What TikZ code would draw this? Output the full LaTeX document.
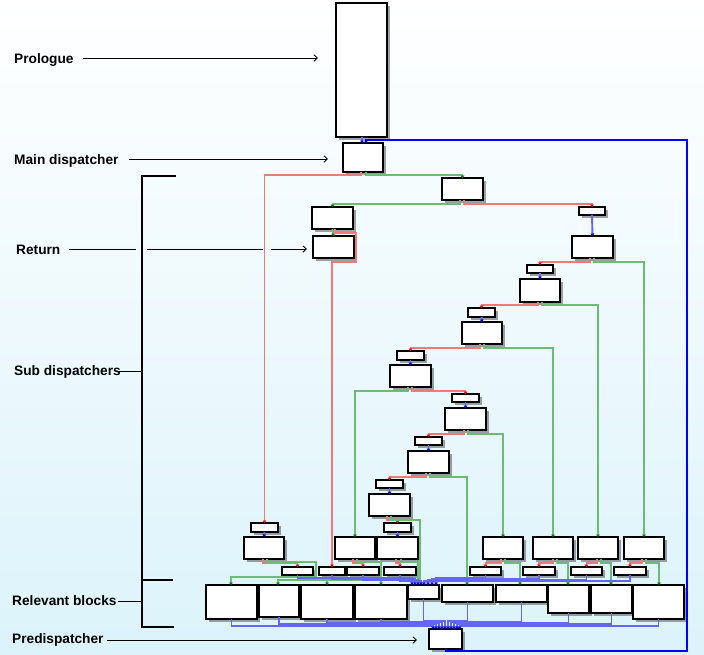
\documentclass[tikz,border=0pt]{standalone}
\usepackage{fontspec}
\setmainfont{Liberation Sans}
\usetikzlibrary{arrows.meta,shadows}
\definecolor{ered}{RGB}{240,122,122}
\definecolor{egreen}{RGB}{108,188,120}
\definecolor{eblue}{RGB}{100,100,255}
\definecolor{bgbot}{RGB}{220,243,251}
\newcommand\mkblk[5]{\node[blk, minimum width={(#4-#2)*1pt}, minimum height={(#5-#3)*1pt}] (#1) at (#2,#3) {};}
\begin{document}
\begin{tikzpicture}[x=1pt,y=-1pt,
  blk/.style={draw=black, line width=1.2pt, fill=white, inner sep=0pt, outer sep=0pt, anchor=north west,
    drop shadow={shadow xshift=3pt, shadow yshift=-3pt, opacity=0.45, fill=black!80}},
  rE/.style={draw=ered, line width=1.9pt, -{Triangle[length=2.5pt,width=3.8pt,color=red]}},
  gE/.style={draw=egreen, line width=1.9pt, -{Triangle[length=2.5pt,width=3.8pt,color=green!50!black]}},
  bE/.style={draw=eblue, line width=1.9pt, -{Triangle[length=2.5pt,width=3.8pt,color=blue]}},
  loopE/.style={draw=blue, line width=2.3pt, -{Triangle[length=2.5pt,width=3.8pt,color=blue]}},
  lab/.style={font=\fontsize{13.7}{15}\selectfont\bfseries, inner sep=0pt, anchor=base west},
  lline/.style={draw=black, line width=0.9pt},
  larr/.style={draw=black, line width=0.9pt, -{Straight Barb[length=3.5pt,width=6.5pt]}},
  brk/.style={draw=black, line width=1.8pt}
]
\fill[top color=white, bottom color=bgbot] (0,0) rectangle (704,654);
\useasboundingbox (0,0) rectangle (704,654);

% ---- blocks ----
\mkblk{pro}{336}{3}{387}{137}
\mkblk{md}{343}{143}{383}{172}
\mkblk{A}{442}{178}{483}{200}
\mkblk{B}{312}{207}{353}{229}
\mkblk{C}{313}{236}{354}{258}
\mkblk{D}{579}{207}{605}{215}
\mkblk{E}{572}{236}{613}{258}
\mkblk{F}{527}{265}{553}{273}
\mkblk{G}{520}{279}{560}{302}
\mkblk{H}{468}{308}{495}{317}
\mkblk{I}{462}{322}{502}{344}
\mkblk{L}{397}{351}{424}{360}
\mkblk{M}{390}{365}{431}{387}
\mkblk{N}{452}{394}{479}{402}
\mkblk{O}{445}{408}{486}{430}
\mkblk{P}{415}{437}{442}{445}
\mkblk{Q}{408}{451}{449}{473}
\mkblk{R}{376}{480}{403}{488}
\mkblk{S}{369}{494}{410}{516}
\mkblk{T}{384}{523}{411}{532}
\mkblk{J}{251}{523}{278}{532}
\mkblk{Jb}{244}{537}{284}{559}
\mkblk{V}{335}{537}{375}{559}
\mkblk{U}{377}{537}{418}{559}
\mkblk{W}{483}{537}{523}{559}
\mkblk{X}{533}{537}{573}{559}
\mkblk{Y}{578}{537}{618}{559}
\mkblk{Z}{624}{537}{664}{559}
\mkblk{k1}{282}{567}{313}{575}
\mkblk{k2}{319}{567}{345}{575}
\mkblk{k3}{347}{567}{379}{575}
\mkblk{k4}{384}{567}{416}{575}
\mkblk{k5}{470}{567}{501}{575}
\mkblk{k6}{523}{567}{555}{575}
\mkblk{k7}{571}{567}{602}{575}
\mkblk{k8}{614}{567}{646}{575}
\mkblk{r1}{206}{585}{257}{619}
\mkblk{r2}{259}{585}{299}{617}
\mkblk{r3}{301}{585}{353}{619}
\mkblk{r4}{355}{585}{407}{619}
\mkblk{r5}{408}{585}{439}{599}
\mkblk{r6}{442}{585}{493}{602}
\mkblk{r7}{496}{585}{547}{602}
\mkblk{r8}{548}{585}{589}{613}
\mkblk{r9}{591}{585}{632}{613}
\mkblk{r10}{633}{585}{684}{619}
\mkblk{pd}{429}{629}{462}{649}

% ---- edges ----
\draw[bE] (pro.south -| 362,0) -- (md.north -| 362,0);
\draw[loopE] (pd.south -| 446,0) -- ++(0,2) -| (687,140) -| (md.north -| 366,0);
\draw[rE] (md.south -| 361,0) -- ++(0,3) -| (J.north);
\draw[gE] (md.south -| 366,0) -- ++(0,3) -| (A.north);
\draw[gE] (A.south -| 460,0) -- ++(0,4) -| (B.north);
\draw[rE] (A.south -| 464,0) -- ++(0,4) -| (D.north);
\draw[gE] (B.south) -- (C.north);
\draw[rE] (B.south -| 335,0) -- ++(0,4) -| (356,262) -| (k2.north);
\draw[bE] (D.south) -- (E.north);
\draw[rE] (E.south -| 590,0) -- ++(0,4) -| (F.north);
\draw[gE] (E.south -| 594,0) -- ++(0,4) -| (Z.north);
\draw[bE] (F.south) -- (G.north);
\draw[rE] (G.south -| 538,0) -- ++(0,3) -| (H.north);
\draw[gE] (G.south -| 542,0) -- ++(0,3) -| (Y.north);
\draw[bE] (H.south) -- (I.north);
\draw[rE] (I.south -| 480,0) -- ++(0,4) -| (L.north);
\draw[gE] (I.south -| 484,0) -- ++(0,4) -| (X.north);
\draw[bE] (L.south) -- (M.north);
\draw[gE] (M.south -| 408,0) -- ++(0,4) -| (V.north);
\draw[rE] (M.south -| 412,0) -- ++(0,4) -| (N.north);
\draw[bE] (N.south) -- (O.north);
\draw[rE] (O.south -| 464,0) -- ++(0,4) -| (P.north);
\draw[gE] (O.south -| 468,0) -- ++(0,4) -| (W.north);
\draw[bE] (P.south) -- (Q.north);
\draw[rE] (Q.south -| 426,0) -- ++(0,4) -| (R.north);
\draw[gE] (Q.south -| 430,0) -- ++(0,4) -| (r6.north -| 467,0);
\draw[bE] (R.south) -- (S.north);
\draw[rE] (S.south -| 387,0) -- ++(0,4) -| (T.north);
\draw[gE] (S.south -| 391,0) -- ++(0,4) -| (420,580) -| (r3.north -| 327,0);
\draw[bE] (T.south) -- (U.north);
\draw[bE] (J.south) -- (Jb.north);
\draw[rE] (Jb.south -| 263,0) -- ++(0,4) -| (k1.north);
\draw[gE] (Jb.south -| 267,0) -- ++(0,3) -| (316,577) -| (r1.north -| 231,0);
\draw[rE] (V.south -| 353,0) -- ++(0,4) -| (k3.north);
\draw[gE] (V.south -| 357,0) -- ++(0,3) -| (r4.north -| 381,0);
\draw[rE] (U.south -| 396,0) -- ++(0,4) -| (k4.north);
\draw[gE] (U.south -| 401,0) -- ++(0,3) -| (418,580) -| (r2.north -| 278,0);
\draw[rE] (W.south -| 501,0) -- ++(0,4) -| (k5.north);
\draw[gE] (W.south -| 505,0) -- ++(0,4) -| (r7.north -| 520,0);
\draw[rE] (X.south -| 553,0) -- ++(0,4) -| (k6.north);
\draw[gE] (X.south -| 557,0) -- ++(0,4) -| (r8.north -| 568,0);
\draw[rE] (Y.south -| 597,0) -- ++(0,4) -| (k7.north);
\draw[gE] (Y.south -| 601,0) -- ++(0,4) -| (r9.north -| 611,0);
\draw[rE] (Z.south -| 642,0) -- ++(0,4) -| (k8.north);
\draw[gE] (Z.south -| 646,0) -- ++(0,4) -| (r10.north -| 659,0);

% sub blocks -> r5
\draw[bE] (k1.south) -- ++(0,3) -| (r5.north -| 412,0);
\draw[bE] (k2.south) -- ++(0,4) -| (r5.north -| 415,0);
\draw[bE] (k3.south) -- ++(0,5) -| (r5.north -| 418,0);
\draw[bE] (k4.south) -- ++(0,6) -| (r5.north -| 421,0);
\draw[bE] (k8.south) -- ++(0,6) -| (r5.north -| 424,0);
\draw[bE] (k7.south) -- ++(0,5) -| (r5.north -| 428,0);
\draw[bE] (k6.south) -- ++(0,4) -| (r5.north -| 432,0);
\draw[bE] (k5.south) -- ++(0,3) -| (r5.north -| 436,0);

% relevant blocks -> predispatcher
\draw[bE] (r1.south) -- ++(0,7) -| (pd.north -| 433,0);
\draw[bE] (r2.south) -- ++(0,7) -| (pd.north -| 436,0);
\draw[bE] (r3.south) -- ++(0,4) -| (pd.north -| 439,0);
\draw[bE] (r4.south) -- ++(0,3) -| (pd.north -| 442,0);
\draw[bE] (r5.south) -- ++(0,22) -| (pd.north -| 445,0);
\draw[bE] (r6.south) -- ++(0,19) -| (pd.north -| 448,0);
\draw[bE] (r7.south) -- ++(0,20) -| (pd.north -| 451,0);
\draw[bE] (r8.south) -- ++(0,10) -| (pd.north -| 454,0);
\draw[bE] (r9.south) -- ++(0,11) -| (pd.north -| 457,0);
\draw[bE] (r10.south) -- ++(0,7) -| (pd.north -| 459.5,0);

% ---- labels ----
\node[lab] (lpro) at (14,63) {Prologue};
\node[lab] (lmd) at (14,164) {Main dispatcher};
\node[lab] (lret) at (16,254) {Return};
\node[lab] (lsub) at (14,375) {Sub dispatchers};
\node[lab] (lrel) at (12,605) {Relevant blocks};
\node[lab] (lpd) at (12,643) {Predispatcher};

\coordinate (apro) at (83,58);
\coordinate (amd) at (129,159);
\coordinate (aret) at (69,249);
\coordinate (asub) at (119,371);
\coordinate (arel) at (118,601);
\coordinate (apd) at (107,640);

\draw[larr, shorten >=18pt] (apro) -- (apro -| pro.west);
\draw[larr, shorten >=15pt] (amd) -- (amd -| md.west);
\draw[lline] (aret) -- (136,249);
\draw[lline] (147,249) -- (263,249);
\draw[larr, shorten >=6pt] (271,249) -- (aret -| C.west);
\draw[larr, shorten >=12pt] (apd) -- (apd -| pd.west);

% bracket
\coordinate (bt) at (142,176);
\coordinate (bm) at (142,580);
\coordinate (bb) at (142,627);
\draw[brk] (176,176) -- (bt) -- (bb) -- (174,627);
\draw[brk] (bm) -- (173,580);
\draw[lline] (asub) -- (asub -| bt);
\draw[lline] (arel) -- (arel -| bt);
\end{tikzpicture}
\end{document}
